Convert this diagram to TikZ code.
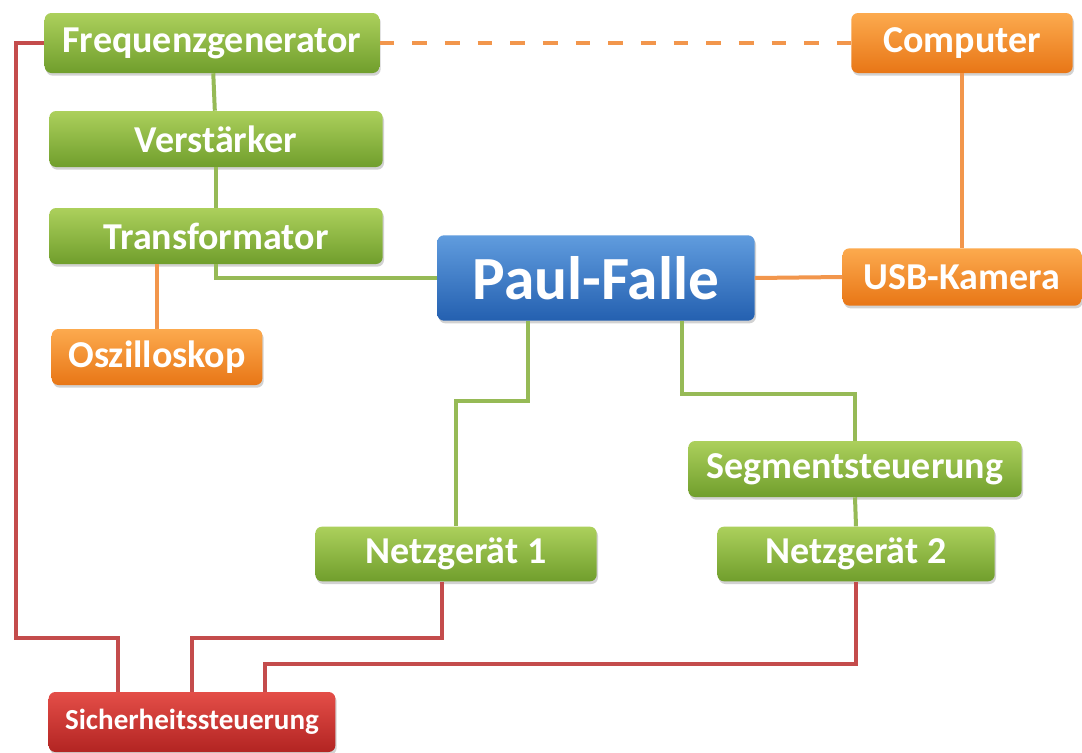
\documentclass[tikz,border=0pt]{standalone}
\usepackage{fontspec}
\setmainfont{Carlito}
\usetikzlibrary{positioning,shadows}

\definecolor{gtop}{RGB}{172,208,92}
\definecolor{gbot}{RGB}{112,158,44}
\definecolor{otop}{RGB}{252,170,78}
\definecolor{obot}{RGB}{232,118,22}
\definecolor{btop}{RGB}{96,156,222}
\definecolor{bbot}{RGB}{36,96,176}
\definecolor{rtop}{RGB}{228,78,72}
\definecolor{rbot}{RGB}{178,36,34}
\definecolor{gwire}{RGB}{150,186,86}
\definecolor{owire}{RGB}{242,150,76}
\definecolor{rwire}{RGB}{196,76,76}

\begin{document}
\begin{tikzpicture}[x=0.75pt,y=-0.75pt,
    box/.style={rounded corners=5pt, inner sep=0pt, text=white,
      font=\fontsize{28.5}{32}\selectfont\bfseries,
      drop shadow={opacity=0.35,shadow xshift=1pt,shadow yshift=-2pt}},
    gbox/.style={box, top color=gtop, bottom color=gbot, minimum height=42pt},
    obox/.style={box, top color=otop, bottom color=obot, minimum height=43pt},
    bbox/.style={box, top color=btop, bottom color=bbot},
    rbox/.style={box, top color=rtop, bottom color=rbot},
    gline/.style={draw=gwire, line width=3pt},
    oline/.style={draw=owire, line width=3pt},
    rline/.style={draw=rwire, line width=3pt}]
  \fill[white] (0,0) rectangle (1082,753);
  \useasboundingbox (0,0) rectangle (1082,753);

  % linke Kette
  \node[gbox, minimum width=251pt, minimum height=45pt] (freq) at (212,43) {Frequenzgenerator};
  \node[gbox, minimum width=250pt] (verst) at (216,139) {Verstärker};
  \node[gbox, minimum width=250pt] (trafo) at (216,236) {Transformator};
  \node[obox, minimum width=158pt, minimum height=42pt] (osz) at (157,357) {Oszilloskop};

  % Falle und Kamera
  \node[bbox, minimum width=238pt, minimum height=64pt,
    font=\fontsize{46}{52}\selectfont\bfseries] (falle) at (596,278) {Paul-Falle};
  \node[obox, minimum width=166pt, minimum height=45pt] (comp) at (962,43) {Computer};
  \node[obox, minimum width=179pt] (usb) at (962,277) {USB-Kamera};

  % Netzgeraete
  \node[gbox, minimum width=250pt] (seg) at (855,469) {Segmentsteuerung};
  \node[gbox, minimum width=208pt, minimum height=41pt] (netz2) at (856,554) {Netzgerät 2};
  \node[gbox, minimum width=211pt, minimum height=41pt] (netz1) at (456,554) {Netzgerät 1};
  \node[rbox, minimum width=215pt, minimum height=45pt,
    font=\fontsize{21.8}{26}\selectfont\bfseries] (sich) at (192,722) {Sicherheitssteuerung};

  \draw[gline] (freq) -- (verst);
  \draw[gline] (verst) -- (trafo);
  \draw[gline] (trafo.south) |- (falle.west);
  \draw[oline] (osz.north) -- (osz.north |- trafo.south);
  \draw[oline, dash pattern=on 11pt off 13.5pt] (freq.east) -- (comp.west);
  \draw[oline] (comp.south) -- (usb.north);
  \draw[oline] (falle.east) -- (usb.west);
  \draw[gline] ([xshift=-51pt]falle.south) -- ++(0,-60pt) -| (netz1.north);
  \draw[gline] ([xshift=64.5pt]falle.south) -- ++(0,-55pt) -| (seg.north);
  \draw[gline] (seg.south) -- (netz2.north);

  % Sicherheit
  \draw[rline] (freq.west) -- ++(-21pt,0) |- ([xshift=-55.5pt,yshift=40.5pt]sich.north) -- ([xshift=-55.5pt]sich.north);
  \draw[rline] ([xshift=-10.5pt]netz1.south) -- ++(0,-42pt) -| (sich.north);
  \draw[rline] (netz2.south) -- ++(0,-62pt) -| ([xshift=55pt]sich.north);
\end{tikzpicture}
\end{document}
